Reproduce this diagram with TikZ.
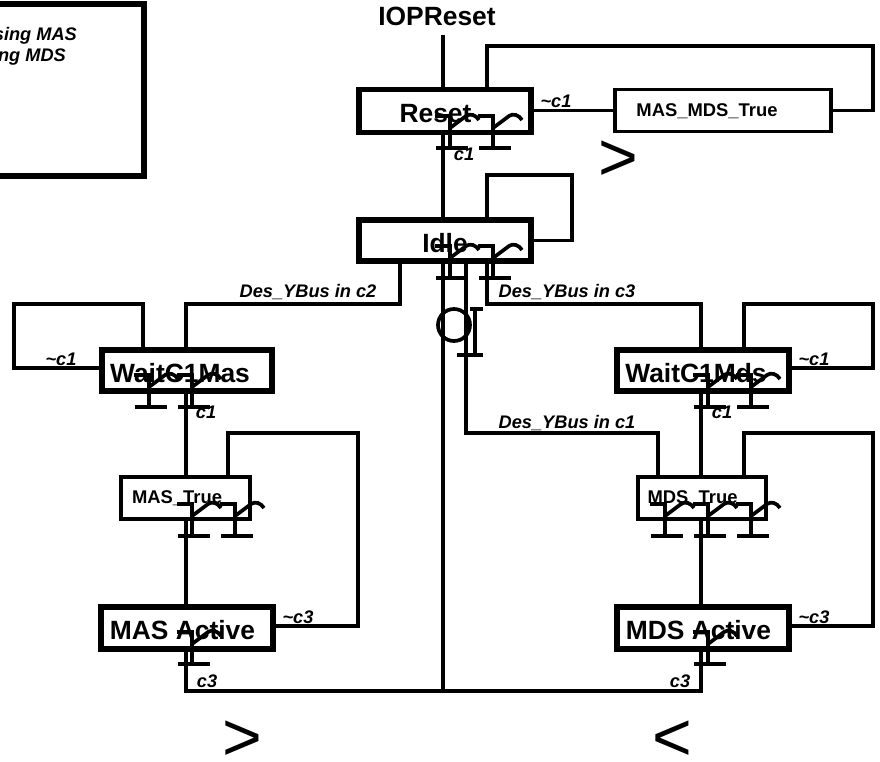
\documentclass[tikz,border=0pt]{standalone}
\usepackage{fontspec}
\setmainfont{Liberation Sans}
\tikzset{
statebox/.style={draw,line width=5.5pt,outer sep=0pt,inner sep=0pt,text height=23pt,text depth=0pt,font=\fontsize{26.4}{26}\bfseries},
plainbox/.style={draw,line width=3.7pt,outer sep=0pt,inner sep=0pt,text height=11pt,text depth=0pt,font=\fontsize{18.4}{18}\bfseries},
wire/.style={line width=3.7pt},
cond/.style={inner sep=0pt,font=\fontsize{18.2}{18}\bfseries\itshape},
bigsign/.style={inner sep=0pt,font=\fontsize{68}{68}\selectfont}
}
\begin{document}
\begin{tikzpicture}[x=1pt,y=-1pt]

\useasboundingbox (0,0) rectangle (880,761);

% Legend
\node[statebox,minimum width=244pt,minimum height=172pt] (Legend) at (22,90) {};
\node[cond,anchor=east] (LegendMas) at (77,36) {sing MAS};
\node[cond,anchor=east] (LegendMds) at (66,57) {ng MDS};

% States
\node[font=\fontsize{26.4}{26}\bfseries,inner sep=0pt] (IOPReset) at (437,16) {IOPReset};
\node[statebox,minimum width=172pt,minimum height=43pt] (Reset) at (445,111) {Reset\kern19pt};
\node[plainbox,minimum width=216pt,minimum height=42pt] (MasMdsTrue) at (723,110.5) {MAS\_MDS\_True\kern32pt};
\node[statebox,minimum width=172pt,minimum height=41pt] (Idle) at (445,240.5) {Idle};
\node[statebox,minimum width=170pt,minimum height=41pt] (WaitMas) at (187,370.5) {WaitC1Mas\kern14pt};
\node[statebox,minimum width=172pt,minimum height=41pt] (WaitMds) at (703,370.5) {WaitC1Mds\kern14pt};
\node[plainbox,minimum width=129pt,minimum height=42pt] (MasTrue) at (185.5,498) {MAS\_True\kern17pt};
\node[plainbox,minimum width=128pt,minimum height=42pt] (MdsTrue) at (702,498) {MDS\_True\kern19pt};
\node[statebox,minimum width=172pt,minimum height=42pt] (MasActive) at (187,628) {MAS Active\kern9pt};
\node[statebox,minimum width=172pt,minimum height=42pt] (MdsActive) at (703,628) {MDS Active\kern9pt};

% Route points
\coordinate (ResetLoop) at (873,46);
\coordinate (IdleLoop) at (572,175);
\coordinate (MasBranch) at (186,304);
\coordinate (MasLoop) at (14,304);
\coordinate (MdsBranch) at (701,304);
\coordinate (MdsLoop) at (873,304);
\coordinate (MasBack) at (358,433);
\coordinate (MdsBack) at (873,433);
\coordinate (FalseTurn) at (466,433);
\coordinate (BusLeft) at (186,691);
\coordinate (BusRight) at (701,691);
\coordinate (BusMid) at (443,691);

% Wires
\draw[wire] ([shift={(6,9)}]IOPReset.south) -- ([xshift=-2pt]Reset.north);
\draw[wire] ([xshift=42pt]Reset.north) |- (ResetLoop) |- (MasMdsTrue.east);
\draw[wire] ([yshift=.5pt]Reset.east) -- (MasMdsTrue.west);
\draw[wire] ([xshift=-2pt]Reset.south) -- ([xshift=-2pt]Idle.north);
\draw[wire] ([xshift=42pt]Idle.north) |- (IdleLoop) |- (Idle.east);
\draw[wire] ([xshift=-45pt]Idle.south) |- (MasBranch) -- ([xshift=-1pt]WaitMas.north);
\draw[wire] ([xshift=-44pt]WaitMas.north) |- (MasLoop) |- ([yshift=2.5pt]WaitMas.west);
\draw[wire] ([xshift=42pt]Idle.south) |- (MdsBranch) -- ([xshift=-2pt]WaitMds.north);
\draw[wire] ([xshift=41pt]WaitMds.north) |- (MdsLoop) |- ([yshift=2.5pt]WaitMds.east);
\draw[wire] ([xshift=21pt]Idle.south) |- (FalseTurn) -| ([xshift=-44pt]MdsTrue.north);
\draw[wire] ([xshift=-1pt]WaitMas.south) -- ([xshift=.5pt]MasTrue.north);
\draw[wire] ([xshift=-2pt]WaitMds.south) -- ([xshift=-1pt]MdsTrue.north);
\draw[wire] ([xshift=.5pt]MasTrue.south) -- ([xshift=-1pt]MasActive.north);
\draw[wire] ([xshift=-1pt]MdsTrue.south) -- ([xshift=-2pt]MdsActive.north);
\draw[wire] ([xshift=42.5pt]MasTrue.north) |- (MasBack) |- ([yshift=2pt]MasActive.east);
\draw[wire] ([xshift=42pt]MdsTrue.north) |- (MdsBack) |- ([yshift=2pt]MdsActive.east);
\draw[wire] ([xshift=-1pt]MasActive.south) -- (BusLeft) -- (BusRight) -- ([xshift=-2pt]MdsActive.south);
\draw[wire] ([xshift=-2pt]Idle.south) -- (BusMid);

% Conditions
\node[cond] (CondA) at (556,101) {\textasciitilde c1};
\node[cond] (CondB) at (464,154) {c1};
\node[cond] (CondC) at (308,292) {Des\_YBus in c2};
\node[cond] (CondD) at (567,292) {Des\_YBus in c3};
\node[cond] (CondE) at (567,423) {Des\_YBus in c1};
\node[cond] (CondF) at (61,359) {\textasciitilde c1};
\node[cond] (CondG) at (206,412) {c1};
\node[cond] (CondH) at (814,359) {\textasciitilde c1};
\node[cond] (CondI) at (722,412) {c1};
\node[cond] (CondJ) at (298,617) {\textasciitilde c3};
\node[cond] (CondK) at (207,681) {c3};
\node[cond] (CondL) at (814,617) {\textasciitilde c3};
\node[cond] (CondM) at (680,681) {c3};

% Gates
\foreach \x/\y in {
452/148,495/148,
452/278,495/278,
151/407,194/407,
194/536,237/536,
710/407,753/407,
667/536,710/536,753/536,
194/664,710/664
}
{
\begin{scope}[shift={(\x,\y)}]
\draw[wire,line width=4pt] (-16,0) -- (16,0);
\draw[wire,line width=4pt] (-17,-32) -- (-2,-32) -- (-2,0);
\draw[wire,line width=3.7pt] (-2,-20) -- (14,-32) .. controls (18,-35) and (24,-33) .. (27,-28);
\end{scope}
}

% Loose signs
\draw[wire] (454,325) circle (16);
\draw[wire] (470,309) -- (483,309);
\draw[wire,line width=4pt] (475,309) -- (475,355);
\draw[wire,line width=4pt] (457,355) -- (483,355);
\node[bigsign] (SignA) at (618.5,161) {>};
\node[bigsign] (SignB) at (242,741) {>};
\node[bigsign] (SignC) at (672,741) {<};

\end{tikzpicture}
\end{document}
